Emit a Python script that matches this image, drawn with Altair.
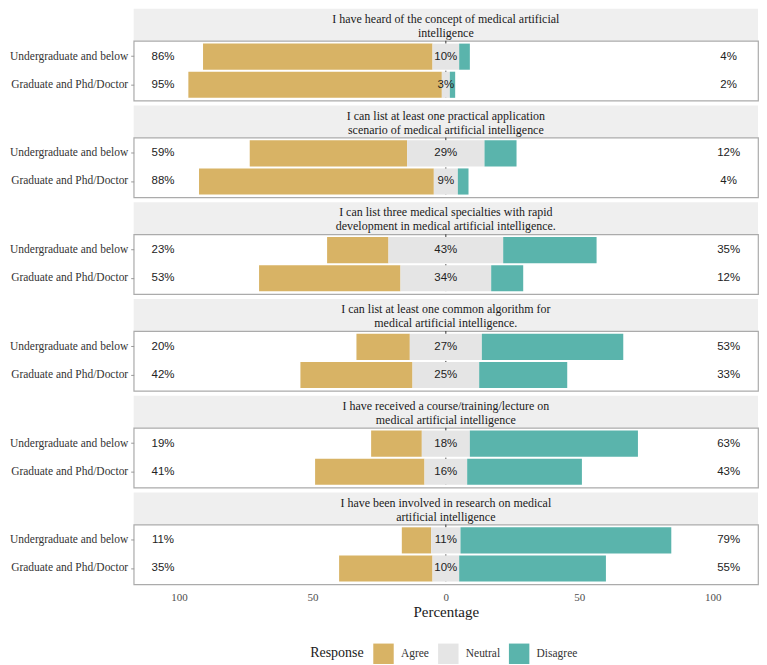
import altair as alt
import pandas as pd

questions = [
    "I have heard of the concept of medical artificial\nintelligence",
    "I can list at least one practical application\nscenario of medical artificial intelligence",
    "I can list three medical specialties with rapid\ndevelopment in medical artificial intelligence.",
    "I can list at least one common algorithm for\nmedical artificial intelligence.",
    "I have received a course/training/lecture on\nmedical artificial intelligence",
    "I have been involved in research on medical\nartificial intelligence",
]
groups = ["Undergraduate and below", "Graduate and Phd/Doctor"]
responses = ["Agree", "Neutral", "Disagree"]
colors = ["#D8B365", "#E5E5E5", "#5AB4AC"]

agree_ug = [86, 59, 23, 20, 19, 11]
neutral_ug = [10, 29, 43, 27, 18, 11]
disagree_ug = [4, 12, 35, 53, 63, 79]
agree_gr = [95, 88, 53, 42, 41, 35]
neutral_gr = [3, 9, 34, 25, 16, 10]
disagree_gr = [2, 4, 12, 33, 43, 55]

SERIF = "Liberation Serif"
SANS = "Liberation Sans"
W = 626
SH = 32
PH = 60

rows = []
for qi, q in enumerate(questions):
    vals = [
        (groups[0], agree_ug[qi], neutral_ug[qi], disagree_ug[qi]),
        (groups[1], agree_gr[qi], neutral_gr[qi], disagree_gr[qi]),
    ]
    for g, a, n, d in vals:
        rows.append(dict(question=q, group=g, response="Agree", start=-n / 2 - a, end=-n / 2, label=f"{a}%"))
        rows.append(dict(question=q, group=g, response="Neutral", start=-n / 2, end=n / 2, label=f"{n}%"))
        rows.append(dict(question=q, group=g, response="Disagree", start=n / 2, end=n / 2 + d, label=f"{d}%"))
df = pd.DataFrame(rows)

xscale = alt.Scale(domain=[-117, 117], nice=False, zero=False)
color = alt.Color(
    "response:N",
    scale=alt.Scale(domain=responses, range=colors),
    title="Response",
    legend=alt.Legend(
        orient="none",
        direction="horizontal",
        titleOrient="left",
        legendX=177,
        legendY=636,
        symbolType="square",
        symbolSize=420,
        symbolStrokeWidth=0,
        columnPadding=8,
        labelOffset=7,
        titlePadding=9,
    ),
)


def strip(qi):
    lines = questions[qi].split("\n")
    t = pd.DataFrame({"line1": [lines[0]], "line2": [lines[1]]})
    bg = alt.Chart(t).mark_rect(color="#EFEFEF").encode(
        x=alt.value(0), x2=alt.value(W), y=alt.value(0), y2=alt.value(SH)
    )
    style = dict(font=SERIF, fontSize=12, color="#1a1a1a", baseline="middle")
    t1 = alt.Chart(t).mark_text(**style).encode(
        x=alt.value(W / 2), y=alt.value(SH / 2 - 6), text="line1:N"
    )
    t2 = alt.Chart(t).mark_text(**style).encode(
        x=alt.value(W / 2), y=alt.value(SH / 2 + 8), text="line2:N"
    )
    return alt.layer(bg, t1, t2).properties(
        width=W, height=SH, view=alt.ViewBackground(strokeOpacity=0)
    )


def panel(qi, last):
    d = df[df.question == questions[qi]]
    if last:
        xaxis = alt.Axis(
            values=[-100, -50, 0, 50, 100],
            labelExpr="abs(datum.value)",
            title="Percentage",
            ticks=False,
            domain=False,
            grid=False,
            labelPadding=7,
            labelFont=SERIF,
            labelFontSize=11,
            labelColor="#4d4d4d",
            titleFont=SERIF,
            titleFontSize=15,
            titleFontWeight="normal",
            titleColor="#1a1a1a",
            titlePadding=2,
        )
    else:
        xaxis = None
    y = alt.Y(
        "group:N",
        sort=groups,
        title=None,
        scale=alt.Scale(domain=groups, paddingInner=0.07, paddingOuter=0.1),
        axis=alt.Axis(
            domain=False,
            ticks=True,
            tickColor="#999999",
            tickSize=3,
            labelFont=SERIF,
            labelFontSize=11.5,
            labelColor="#333333",
            labelPadding=3,
        ),
    )
    base = alt.Chart(d)
    rule = alt.Chart(pd.DataFrame({"z": [0]})).mark_rule(
        strokeDash=[3, 3], color="#333333", strokeWidth=1
    ).encode(x=alt.X("z:Q", scale=xscale, axis=xaxis))
    bars = base.mark_bar().encode(
        x=alt.X("start:Q", scale=xscale, axis=xaxis),
        x2="end:Q",
        y=y,
        color=color,
    )
    tstyle = dict(font=SANS, fontSize=11.5, color="#222222")
    tl = base.transform_filter(alt.datum.response == "Agree").mark_text(**tstyle).encode(
        x=alt.X(datum=-106, axis=xaxis), y=y, text="label:N"
    )
    tn = base.transform_filter(alt.datum.response == "Neutral").mark_text(**tstyle).encode(
        x=alt.X(datum=0, axis=xaxis), y=y, text="label:N"
    )
    tr = base.transform_filter(alt.datum.response == "Disagree").mark_text(**tstyle).encode(
        x=alt.X(datum=106, axis=xaxis), y=y, text="label:N"
    )
    return alt.layer(rule, bars, tl, tn, tr).properties(width=W, height=PH)


blocks = []
for qi in range(len(questions)):
    blocks.append(
        alt.vconcat(strip(qi), panel(qi, qi == len(questions) - 1), spacing=0, bounds="flush")
    )

chart = (
    alt.vconcat(*blocks, spacing=3)
    .properties(padding=0)
    .configure_view(stroke="#ababab", strokeWidth=1.2)
    .configure_legend(
        titleFont=SERIF,
        titleFontSize=14,
        titleFontWeight="normal",
        titleColor="#1a1a1a",
        labelFont=SERIF,
        labelFontSize=11.5,
        labelColor="#333333",
    )
)

chart.save("out.html", embed_options={"renderer": "svg", "actions": False})
